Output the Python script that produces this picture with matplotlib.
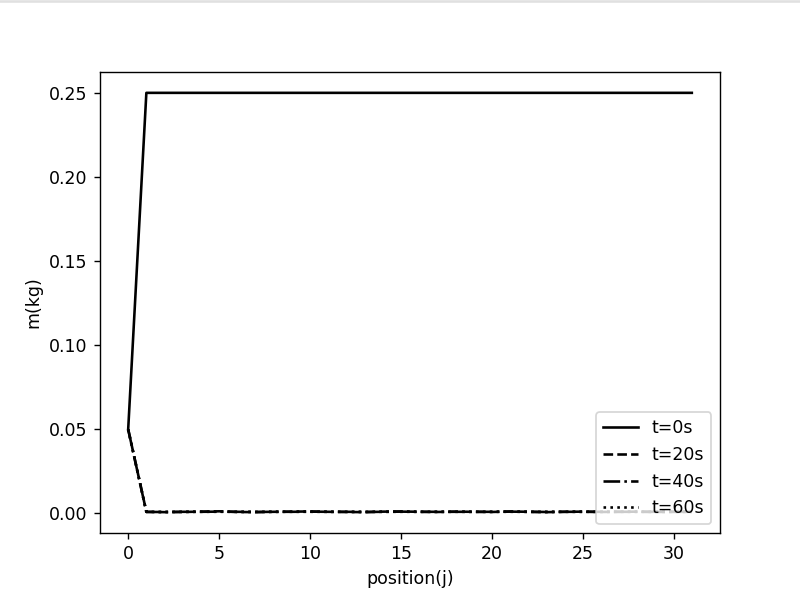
import matplotlib
matplotlib.use("Agg")
import matplotlib.pyplot as plt
from matplotlib.lines import Line2D

positions = list(range(32))
m_t0 = [0.05] + [0.25] * 31
m_t20 = [0.05, 0.0010, 0.0008, 0.0009, 0.0011, 0.0013, 0.0009, 0.0008, 0.0010, 0.0011,
         0.0012, 0.0010, 0.0009, 0.0008, 0.0011, 0.0012, 0.0010, 0.0009, 0.0011, 0.0010,
         0.0009, 0.0012, 0.0010, 0.0008, 0.0010, 0.0011, 0.0009, 0.0010, 0.0011, 0.0009,
         0.0010, 0.0010]
m_t40 = [0.05, 0.0009, 0.0009, 0.0010, 0.0010, 0.0011, 0.0010, 0.0009, 0.0010, 0.0010,
         0.0011, 0.0010, 0.0010, 0.0009, 0.0010, 0.0011, 0.0010, 0.0010, 0.0010, 0.0010,
         0.0010, 0.0011, 0.0010, 0.0009, 0.0010, 0.0010, 0.0010, 0.0010, 0.0010, 0.0010,
         0.0010, 0.0010]
m_t60 = [0.05, 0.0010, 0.0009, 0.0010, 0.0010, 0.0010, 0.0010, 0.0010, 0.0010, 0.0010,
         0.0010, 0.0010, 0.0010, 0.0010, 0.0010, 0.0010, 0.0010, 0.0010, 0.0010, 0.0010,
         0.0010, 0.0010, 0.0010, 0.0010, 0.0010, 0.0010, 0.0010, 0.0010, 0.0010, 0.0010,
         0.0010, 0.0010]
labels = ["t=0s", "t=20s", "t=40s", "t=60s"]

fig, ax = plt.subplots(figsize=(6.4, 4.792), dpi=125)
ax.plot(positions, m_t0, color="black", linestyle="-", label=labels[0])
ax.plot(positions, m_t20, color="black", linestyle="--", label=labels[1])
ax.plot(positions, m_t40, color="black", linestyle="-.", label=labels[2])
ax.plot(positions, m_t60, color="black", linestyle=":", label=labels[3])
ax.set_xlabel("position(j)")
ax.set_ylabel("m(kg)")
ax.legend(loc="lower right")
fig.add_artist(Line2D([0, 1], [0.999, 0.999], transform=fig.transFigure,
                      color="#e0e0e0", linewidth=1.5))
fig.savefig("out.png", dpi=125)
